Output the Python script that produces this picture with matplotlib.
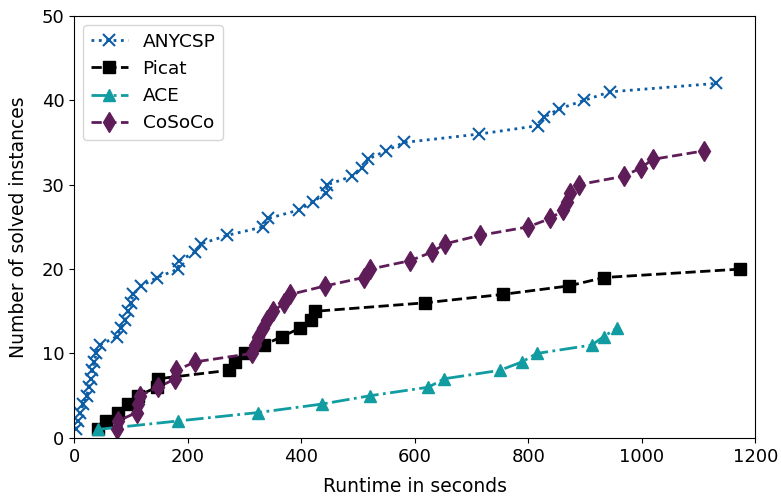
import matplotlib
matplotlib.use("Agg")
import matplotlib.pyplot as plt

# Runtime (s) at which each additional instance was solved
anycsp_t = [3, 6, 11, 16, 22, 26, 29, 32, 35, 39, 45, 75, 83, 90, 95, 100, 104, 118,
            146, 183, 185, 213, 224, 270, 333, 342, 396, 421, 444, 446, 490, 508,
            517, 549, 581, 714, 818, 828, 855, 899, 944, 1131]
picat_t = [42, 56, 78, 95, 112, 146, 148, 272, 283, 301, 334, 366, 398, 418, 425,
           618, 755, 871, 934, 1174]
ace_t = [42, 183, 324, 436, 522, 624, 652, 750, 789, 815, 912, 933, 956]
cosoco_t = [75, 77, 110, 113, 116, 148, 178, 180, 213, 313, 318, 324, 332, 340, 351,
            370, 381, 442, 510, 522, 592, 630, 654, 715, 800, 839, 862, 868, 874, 889,
            968, 999, 1019, 1109]

series = [
    ("ANYCSP", anycsp_t, "#0C5DA5", ":", "x"),
    ("Picat", picat_t, "black", "--", "s"),
    ("ACE", ace_t, "#109CA0", "-.", "^"),
    ("CoSoCo", cosoco_t, "#5E1D58", "--", "d"),
]

fig, ax = plt.subplots(figsize=(7.81, 4.97), dpi=100)
fig.subplots_adjust(left=0.095, right=0.967, top=0.968, bottom=0.119)

for name, times, color, ls, mk in series:
    solved = list(range(1, len(times) + 1))
    ax.plot(times, solved, linestyle=ls, marker=mk, color=color, lw=2,
            markersize=10 if mk == "d" else 9,
            markeredgewidth=1.5 if mk == "x" else 1, label=name)

ax.set_xlim(0, 1200)
ax.set_ylim(0, 50)
ax.set_xlabel("Runtime in seconds", fontsize=13.5, labelpad=8)
ax.set_ylabel("Number of solved instances", fontsize=13.5, labelpad=10)
ax.tick_params(labelsize=13)
ax.legend(loc="upper left", fontsize=13.3)

fig.savefig("out.png", dpi=100)
